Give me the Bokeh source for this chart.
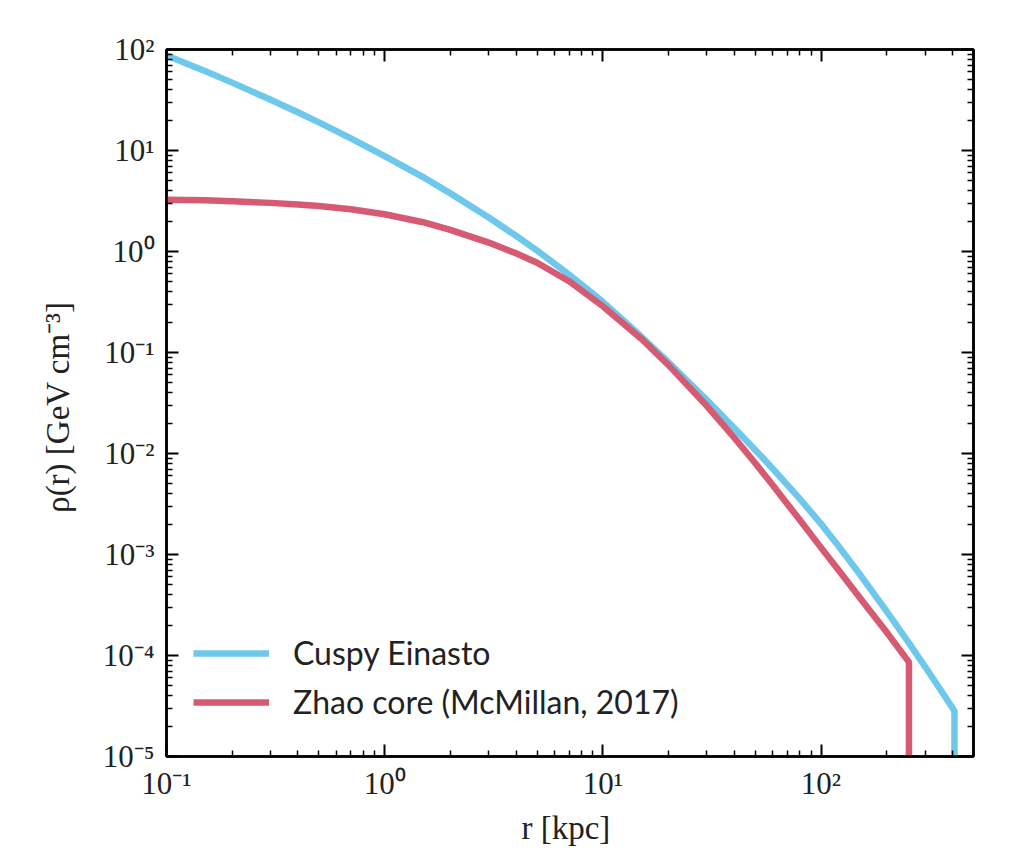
from bokeh.plotting import figure
from bokeh.models import (LogAxis, FixedTicker, CustomJSTickFormatter, Legend,
                          LegendItem)
from bokeh.embed import file_html
from bokeh.resources import INLINE

# Dark-matter density profiles, rho(r) in GeV cm^-3 against r in kpc
r_einasto = [0.1, 0.15, 0.2, 0.3, 0.4, 0.5, 0.7, 1, 1.5, 2, 3, 4, 5, 7, 10,
             15, 20, 30, 40, 50, 60, 80, 100, 120, 150, 200, 250, 300, 350,
             409, 409]
rho_einasto = [87.1, 61.2, 47.0, 31.8, 23.9, 19.0, 13.2, 8.8, 5.46, 3.76,
               2.17, 1.43, 1.02, 0.590, 0.317, 0.144, 0.0798, 0.0338,
               0.0179, 0.01084, 7.11e-3, 3.56e-3, 2.01e-3, 1.22e-3, 6.46e-4,
               2.74e-4, 1.38e-4, 7.74e-5, 4.71e-5, 2.82e-5, 1e-9]

r_zhao = [0.1, 0.15, 0.2, 0.3, 0.4, 0.5, 0.7, 1, 1.5, 2, 3, 4, 5, 7, 10,
          15, 20, 30, 40, 50, 60, 80, 100, 120, 150, 200, 253, 253]
rho_zhao = [3.25, 3.21, 3.15, 3.03, 2.92, 2.82, 2.62, 2.34, 1.95, 1.64,
            1.225, 0.959, 0.773, 0.508, 0.287, 0.137, 0.0750, 0.0295,
            0.01435, 8.0e-3, 4.88e-3, 2.19e-3, 1.17e-3, 7.05e-4, 3.78e-4,
            1.70e-4, 8.6e-5, 1e-9]

series_names = ["Cuspy Einasto", "Zhao core (McMillan, 2017)"]
series_colors = ["#6DC8EC", "#D65B72"]

x_major = [0.1, 1, 10, 100]
y_major = [1e-5, 1e-4, 1e-3, 1e-2, 1e-1, 1, 10, 100]

x_minor = [m * 10.0 ** e for e in range(-1, 3) for m in range(2, 10)
           if m * 10.0 ** e <= 500]
y_minor = [m * 10.0 ** e for e in range(-5, 2) for m in range(2, 10)]

serif = "Liberation Serif"

p = figure(
    x_axis_type="log", y_axis_type="log",
    x_range=(0.1, 500), y_range=(1e-5, 100),
    frame_width=807, frame_height=707,
    min_border_left=166, min_border_right=53,
    min_border_top=49, min_border_bottom=109,
    output_backend="svg", toolbar_location=None,
    background_fill_color="white", border_fill_color="white",
)
p.grid.visible = False
p.outline_line_color = "black"
p.outline_line_width = 2.5

power_fmt = CustomJSTickFormatter(code="""
    const sup = {'-': '\u207b', '0': '\u2070', '1': '\u00b9', '2': '\u00b2',
                 '3': '\u00b3', '4': '\u2074', '5': '\u2075', '6': '\u2076',
                 '7': '\u2077', '8': '\u2078', '9': '\u2079'};
    const e = String(Math.round(Math.log10(tick)));
    return '10' + e.split('').map(c => sup[c]).join('');
""")
blank_fmt = CustomJSTickFormatter(code="return '';")


def style_axis(ax, major, minor, fmt):
    ax.ticker = FixedTicker(ticks=major, minor_ticks=minor)
    ax.formatter = fmt
    ax.axis_line_color = "black"
    ax.axis_line_width = 2.5
    ax.major_tick_in = 12
    ax.major_tick_out = 0
    ax.minor_tick_in = 6
    ax.minor_tick_out = 0
    ax.major_tick_line_width = 2
    ax.minor_tick_line_width = 1.5
    ax.major_tick_line_color = "black"
    ax.minor_tick_line_color = "black"
    ax.major_label_text_font = serif
    ax.major_label_text_font_size = "31px"
    ax.major_label_text_color = "#222222"


bottom_axis = p.xaxis[0]
left_axis = p.yaxis[0]
style_axis(bottom_axis, x_major, x_minor, power_fmt)
style_axis(left_axis, y_major, y_minor, power_fmt)
bottom_axis.major_label_standoff = 9
left_axis.major_label_standoff = 12

top_axis = LogAxis()
style_axis(top_axis, x_major, x_minor, blank_fmt)
p.add_layout(top_axis, "above")
right_axis = LogAxis()
style_axis(right_axis, y_major, y_minor, blank_fmt)
p.add_layout(right_axis, "right")

bottom_axis.axis_label = "r  [kpc]"
left_axis.axis_label = "\u03c1(r)  [GeV cm\u207b\u00b3]"
for ax in (bottom_axis, left_axis):
    ax.axis_label_text_font = serif
    ax.axis_label_text_font_size = "33px"
    ax.axis_label_text_font_style = "normal"
    ax.axis_label_text_color = "#222222"
bottom_axis.axis_label_standoff = 6
left_axis.axis_label_standoff = 24

blue = p.line(r_einasto, rho_einasto, line_color=series_colors[0],
              line_width=6.5, line_join="round")
red = p.line(r_zhao, rho_zhao, line_color=series_colors[1], line_width=6.5,
             line_join="round")

legend = Legend(
    items=[LegendItem(label=series_names[0], renderers=[blue]),
           LegendItem(label=series_names[1], renderers=[red])],
    location=(27, 35),
    glyph_width=76, glyph_height=30, label_height=30,
    label_standoff=24, spacing=10, padding=0, margin=0,
    border_line_alpha=0, background_fill_alpha=0,
    label_text_font="Lato", label_text_font_size="32px",
    label_text_color="#222222",
)
p.add_layout(legend, "center")

open("out.html", "w").write(file_html(p, INLINE))
